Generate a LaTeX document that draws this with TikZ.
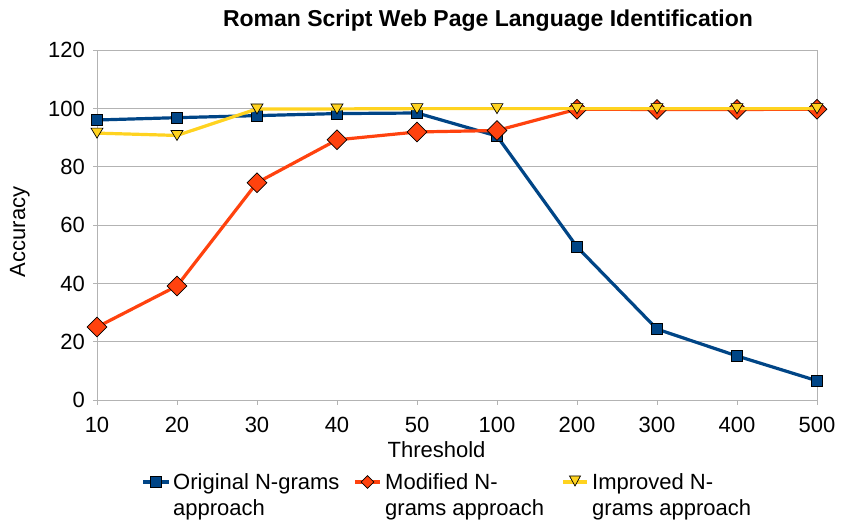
\documentclass[tikz,border=0pt]{standalone}
\usepackage{fontspec}
\setmainfont{Liberation Sans}
\usetikzlibrary{shapes.geometric}
\definecolor{serA}{HTML}{004586}
\definecolor{serB}{HTML}{FF420E}
\definecolor{serC}{HTML}{FFD320}
\definecolor{gridc}{HTML}{B3B3B3}
\tikzset{
  trimark/.pic={\filldraw[fill=serC,draw=black,line width=0.7pt]
    (-6pt,5pt) -- (6pt,5pt) -- (0pt,-5pt) -- cycle;},
  trileg/.pic={\filldraw[fill=serC,draw=black,line width=0.7pt]
    (-5.5pt,5pt) -- (5.5pt,5pt) -- (0pt,-5pt) -- cycle;}
}
\begin{document}
\begin{tikzpicture}[x=1pt,y=1pt,
  gridline/.style={draw=gridc, line width=1pt},
  labtxt/.style={font=\fontsize{22}{26}\selectfont, inner sep=0pt},
  sqmark/.style={rectangle, draw=black, line width=0.7pt, fill=serA,
    minimum size=11pt, inner sep=0pt},
  dmmark/.style={diamond, draw=black, line width=0.7pt, fill=serB,
    minimum size=20pt, inner sep=0pt},
  dmleg/.style={diamond, draw=black, line width=0.7pt, fill=serB,
    minimum size=13pt, inner sep=0pt},
  serline/.style={line width=3.2pt, line join=round}
]
\useasboundingbox (0,0) rectangle (841,524);
\fill[white] (0,0) rectangle (841,524);

% title
\node[anchor=base, inner sep=0pt, font=\fontsize{23}{27}\selectfont\bfseries]
  (title) at (488,497) {Roman Script Web Page Language Identification};

% plot frame in data units: x = category index, y = accuracy
\begin{scope}[shift={(97pt,123.7pt)}, x=80pt, y=2.9167pt]
  % horizontal grid, y ticks and labels
  \foreach \v in {0,20,...,120}{
    \draw[gridline] (0,\v) -- (9,\v);
    \draw[gridline] (-4pt,\v) -- (0,\v);
    \node[labtxt, anchor=east] (ylab\v) at ([xshift=-12pt]0,\v) {\v};
  }
  \draw[gridline] (0,0) -- (0,120);
  \draw[gridline] (9,0) -- (9,120);
  % category ticks and labels
  \foreach \c [count=\i from 0] in {10,20,30,40,50,100,200,300,400,500}{
    \draw[gridline] (\i,0) -- ([yshift=-5pt]\i,0);
  }
  \foreach \c [count=\i from 0] in {10,20,30,40,50,100,200,300,400,500}{
    \node[labtxt, anchor=base] (xlab\c) at ([yshift=-32.7pt]\i,0) {\c};
  }

  % Original N-grams approach
  \draw[serA, serline] (0,96.1) -- (1,96.9) -- (2,97.6) -- (3,98.3) -- (4,98.5)
    -- (5,90.6) -- (6,52.6) -- (7,24.4) -- (8,15.2) -- (9,6.7);
  \foreach \p [count=\i from 0] in {96.1,96.9,97.6,98.3,98.5,90.6,52.6,24.4,15.2,6.7}
    \node[sqmark] (a\i) at (\i,\p) {};

  % Modified N-grams approach
  \draw[serB, serline] (0,25.1) -- (1,39.2) -- (2,74.6) -- (3,89.3) -- (4,92.0)
    -- (5,92.5) -- (6,99.8) -- (7,99.7) -- (8,99.7) -- (9,99.8);
  \foreach \p [count=\i from 0] in {25.1,39.2,74.6,89.3,92.0,92.5,99.8,99.7,99.7,99.8}
    \node[dmmark] (b\i) at (\i,\p) {};

  % Improved N-grams approach
  \draw[serC, serline] (0,91.6) -- (1,90.8) -- (2,99.9) -- (3,99.9) -- (4,100)
    -- (5,100) -- (6,100) -- (7,100) -- (8,100) -- (9,100);
  \foreach \p [count=\i from 0] in {91.6,90.8,99.9,99.9,100,100,100,100,100,100}
    \pic at (\i,\p) {trimark};
\end{scope}

% axis titles
\node[labtxt, anchor=base] (xtitle) at (436.5,66) {Threshold};
\node[labtxt, anchor=base, rotate=90] (ytitle) at (25,292) {Accuracy};

% legend
\draw[serA, line width=3.2pt] (143,42) -- (169,42);
\node[sqmark] (legA) at (156,42) {};
\node[labtxt, anchor=base west] (legA1) at (173,34) {Original N-grams};
\node[labtxt, anchor=base west] (legA2) at (173,8) {approach};

\draw[serB, line width=3.2pt] (355,42) -- (380,42);
\node[dmleg] (legB) at (367.5,42) {};
\node[labtxt, anchor=base west] (legB1) at (385,34) {Modified N-};
\node[labtxt, anchor=base west] (legB2) at (385,8) {grams approach};

\draw[serC, line width=3.2pt] (563,42) -- (587,42);
\pic at (575,43) {trileg};
\node[labtxt, anchor=base west] (legC1) at (592,34) {Improved N-};
\node[labtxt, anchor=base west] (legC2) at (592,8) {grams approach};
\end{tikzpicture}
\end{document}
